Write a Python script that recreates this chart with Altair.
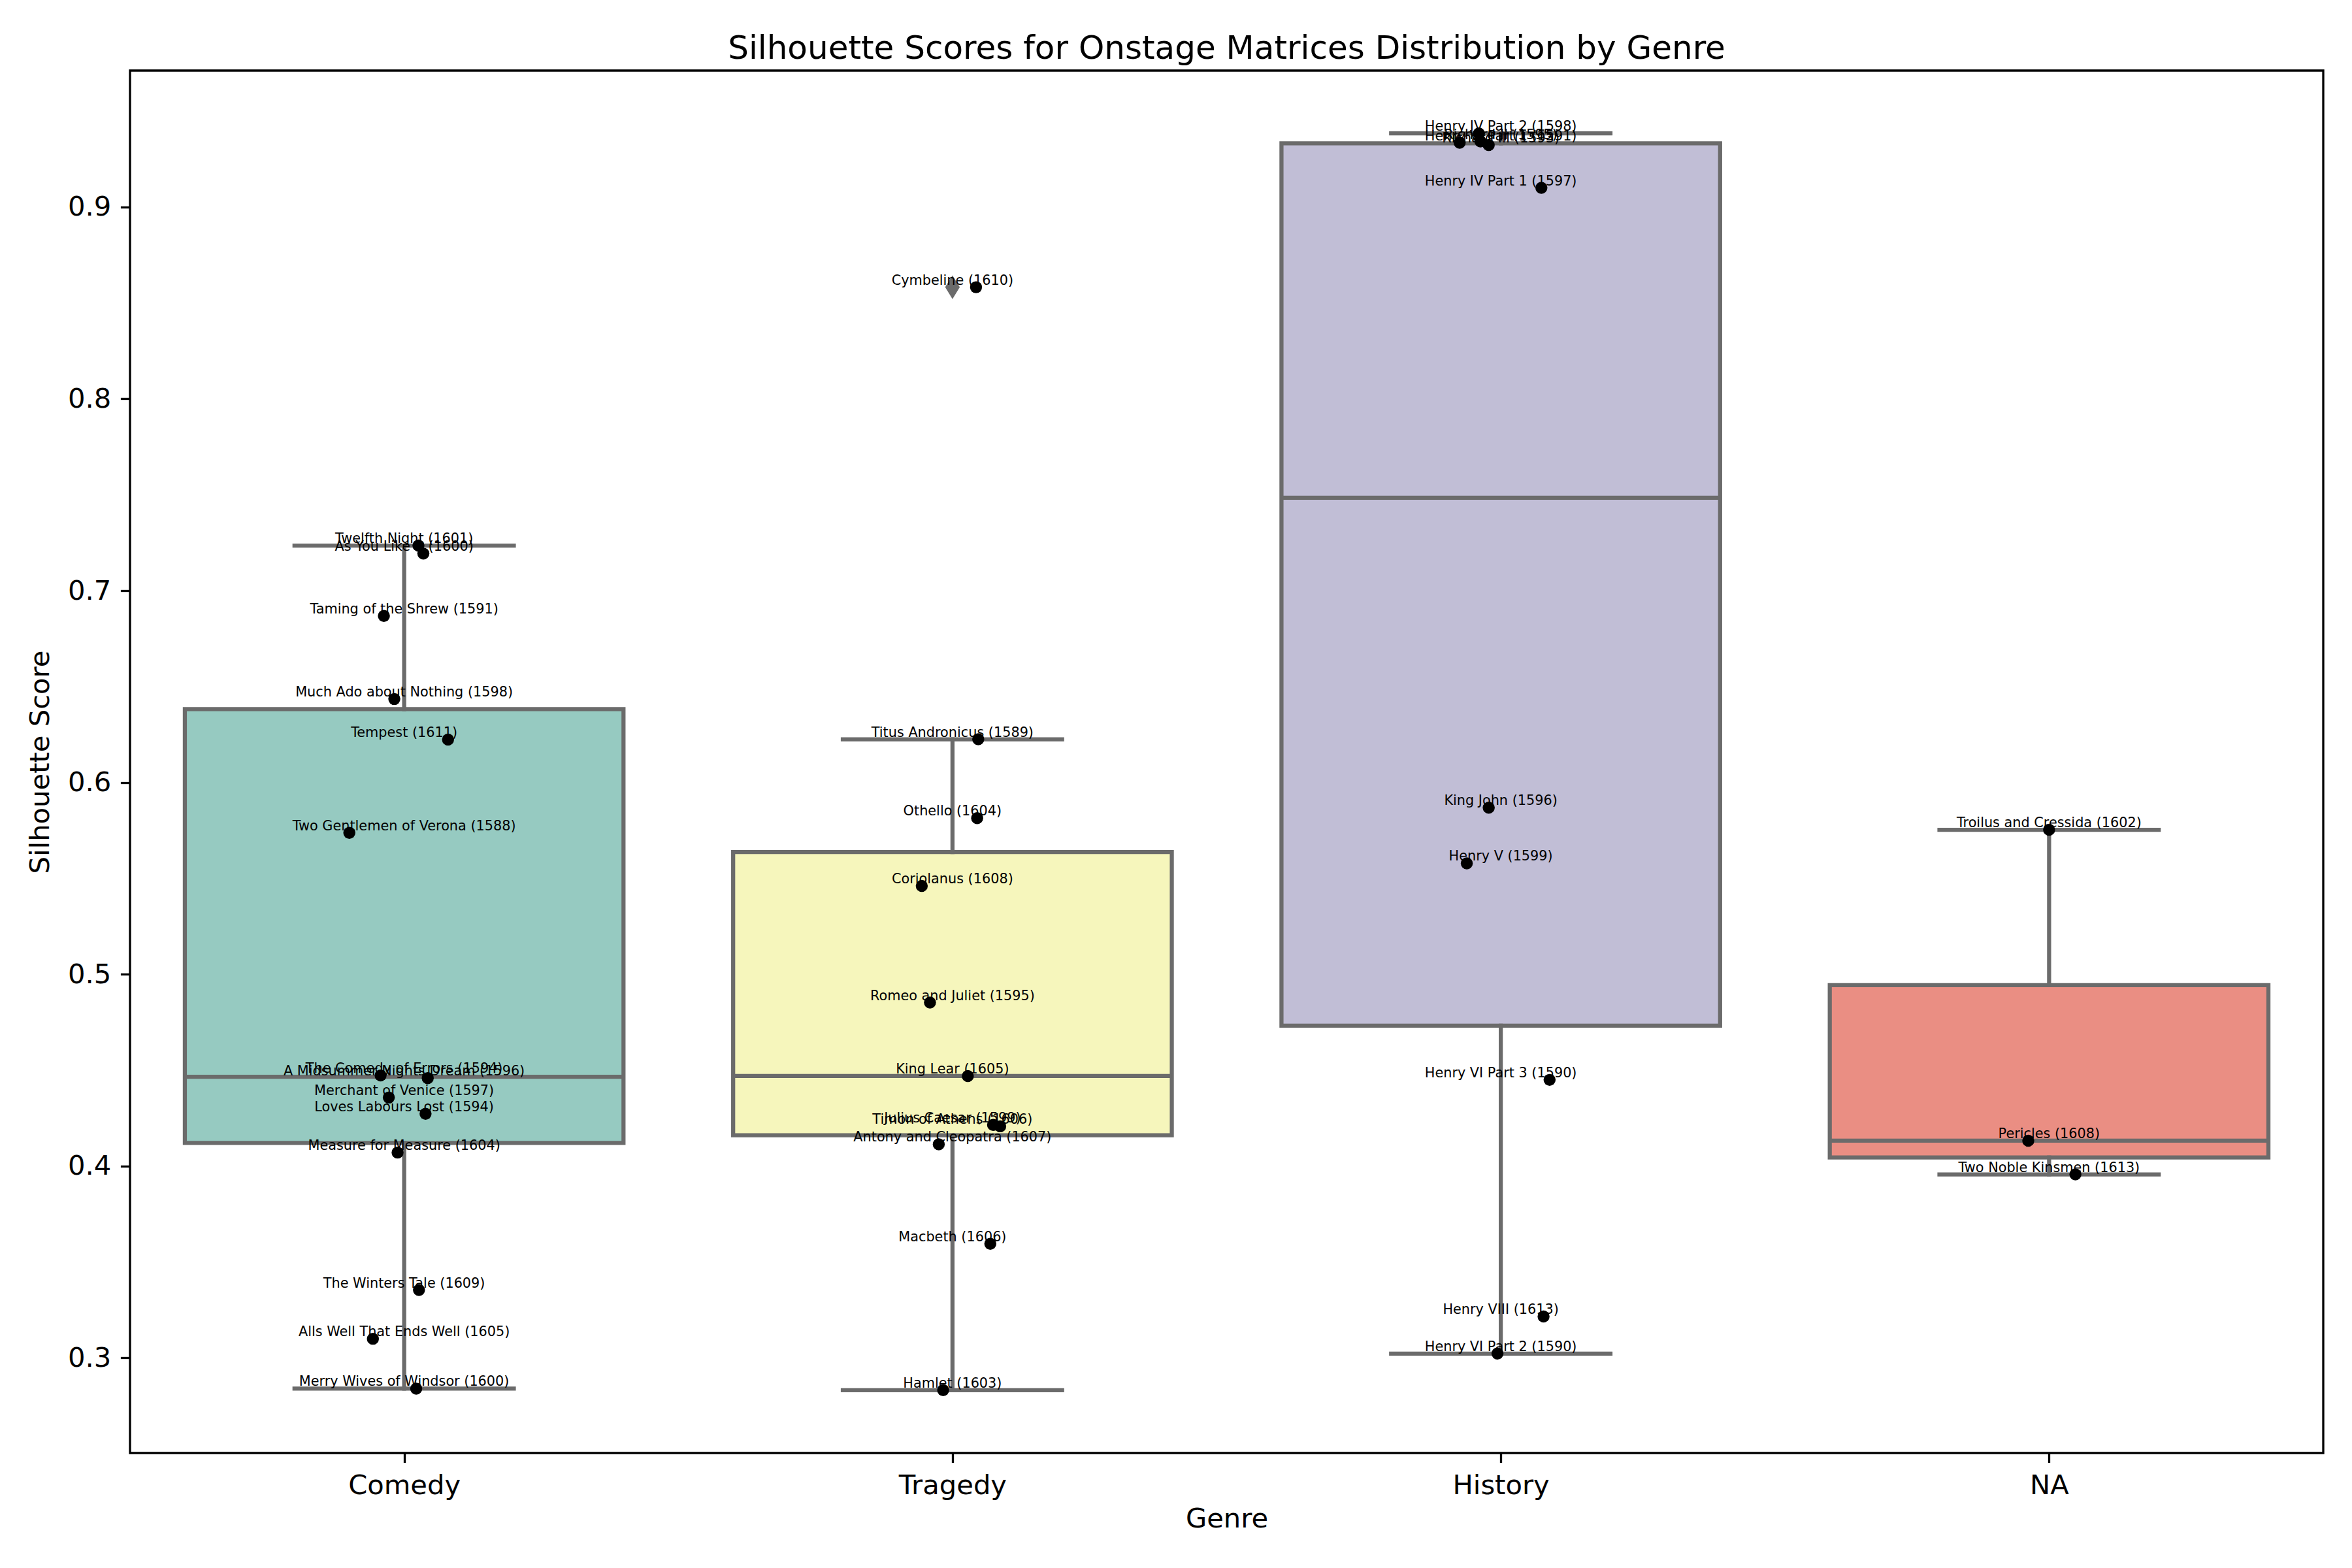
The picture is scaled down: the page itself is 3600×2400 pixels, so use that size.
import altair as alt
import pandas as pd

genres = ["Comedy", "Tragedy", "History", "NA"]
box_colors = ["#96cac1", "#f6f6bc", "#c1bed6", "#ea8e83"]

comedy_labels = ["Twelfth Night (1601)", "As You Like It (1600)", "Taming of the Shrew (1591)",
                 "Much Ado about Nothing (1598)", "Tempest (1611)", "Two Gentlemen of Verona (1588)",
                 "The Comedy of Errors (1594)", "A Midsummer Nights Dream (1596)",
                 "Merchant of Venice (1597)", "Loves Labours Lost (1594)", "Measure for Measure (1604)",
                 "The Winters Tale (1609)", "Alls Well That Ends Well (1605)",
                 "Merry Wives of Windsor (1600)"]
comedy_scores = [0.7235, 0.7193, 0.6868, 0.6435, 0.6223, 0.5737, 0.4472, 0.4458,
                 0.4357, 0.4272, 0.4070, 0.3353, 0.3099, 0.2839]
comedy_jitter = [0.026, 0.035, -0.037, -0.018, 0.080, -0.100, -0.043, 0.043,
                 -0.028, 0.039, -0.012, 0.027, -0.057, 0.022]

tragedy_labels = ["Cymbeline (1610)", "Titus Andronicus (1589)", "Othello (1604)",
                  "Coriolanus (1608)", "Romeo and Juliet (1595)", "King Lear (1605)",
                  "Julius Caesar (1599)", "Timon of Athens (1606)", "Antony and Cleopatra (1607)",
                  "Macbeth (1606)", "Hamlet (1603)"]
tragedy_scores = [0.8582, 0.6225, 0.5814, 0.5460, 0.4852, 0.4469, 0.4214, 0.4207,
                  0.4113, 0.3594, 0.2831]
tragedy_jitter = [0.043, 0.047, 0.045, -0.056, -0.041, 0.028, 0.074, 0.087,
                  -0.025, 0.069, -0.017]

history_labels = ["Henry IV Part 2 (1598)", "Richard II (1595)", "Henry VI Part 1 (1591)",
                  "Richard III (1593)", "Henry IV Part 1 (1597)", "King John (1596)",
                  "Henry V (1599)", "Henry VI Part 3 (1590)", "Henry VIII (1613)",
                  "Henry VI Part 2 (1590)"]
history_scores = [0.9384, 0.9342, 0.9335, 0.9323, 0.9100, 0.5868, 0.5578, 0.4449,
                  0.3215, 0.3022]
history_jitter = [-0.040, -0.037, -0.075, -0.022, 0.074, -0.022, -0.062, 0.089,
                  0.078, -0.006]

na_labels = ["Troilus and Cressida (1602)", "Pericles (1608)", "Two Noble Kinsmen (1613)"]
na_scores = [0.5753, 0.4132, 0.3956]
na_jitter = [0.000, -0.038, 0.048]

y_ticks = [0.3, 0.4, 0.5, 0.6, 0.7, 0.8, 0.9]

groups = [
    (comedy_labels, comedy_scores, comedy_jitter),
    (tragedy_labels, tragedy_scores, tragedy_jitter),
    (history_labels, history_scores, history_jitter),
    (na_labels, na_scores, na_jitter),
]
rows = []
for gi, (labs, scs, jit) in enumerate(groups):
    for lab, sc, jt in zip(labs, scs, jit):
        rows.append({"genre": genres[gi], "gidx": gi, "label": lab, "score": sc, "jx": gi + jt})
df = pd.DataFrame(rows)

lo, hi = df["score"].min(), df["score"].max()
pad = 0.05 * (hi - lo)

GRAY = "#6b6b6b"
LW = 6.25
FONT = "DejaVu Sans"

xscale = alt.Scale(domain=[-0.5, 3.5], nice=False, zero=False)
yscale = alt.Scale(domain=[lo - pad, hi + pad], nice=False, zero=False)
label_expr = "[" + ",".join("'%s'" % g for g in genres) + "][datum.value]"
xaxis = alt.Axis(values=[0, 1, 2, 3], labelExpr=label_expr, title="Genre", titlePadding=10)
yaxis = alt.Axis(values=y_ticks, format=".1f", title="Silhouette Score", titlePadding=20)

base = alt.Chart(df)

stats = base.transform_aggregate(
    q1="q1(score)", q3="q3(score)", med="median(score)", groupby=["genre", "gidx"]
).transform_calculate(xl="datum.gidx - 0.4", xr="datum.gidx + 0.4")

boxes = stats.mark_rect(stroke=GRAY, strokeWidth=LW, strokeJoin="miter").encode(
    x=alt.X("xl:Q", scale=xscale, axis=xaxis),
    x2="xr:Q",
    y=alt.Y("q1:Q", scale=yscale, axis=yaxis),
    y2="q3:Q",
    color=alt.Color("genre:N", scale=alt.Scale(domain=genres, range=box_colors), legend=None),
)
medians = stats.mark_rule(color=GRAY, strokeWidth=LW).encode(
    x="xl:Q", x2="xr:Q", y="med:Q"
)

fenced = base.transform_joinaggregate(
    q1="q1(score)", q3="q3(score)", groupby=["genre"]
).transform_calculate(
    lo="datum.q1 - 1.5 * (datum.q3 - datum.q1)",
    hi="datum.q3 + 1.5 * (datum.q3 - datum.q1)",
)
whisk = fenced.transform_filter(
    "datum.score >= datum.lo && datum.score <= datum.hi"
).transform_aggregate(
    wmin="min(score)", wmax="max(score)", q1="max(q1)", q3="max(q3)", groupby=["genre", "gidx"]
).transform_calculate(cl="datum.gidx - 0.2", cr="datum.gidx + 0.2")

up_whisk = whisk.mark_rule(color=GRAY, strokeWidth=LW, strokeCap="square").encode(
    x="gidx:Q", y="q3:Q", y2="wmax:Q")
lo_whisk = whisk.mark_rule(color=GRAY, strokeWidth=LW, strokeCap="square").encode(
    x="gidx:Q", y="wmin:Q", y2="q1:Q")
up_cap = whisk.mark_rule(color=GRAY, strokeWidth=LW, strokeCap="square").encode(
    x="cl:Q", x2="cr:Q", y="wmax:Q")
lo_cap = whisk.mark_rule(color=GRAY, strokeWidth=LW, strokeCap="square").encode(
    x="cl:Q", x2="cr:Q", y="wmin:Q")

outliers = fenced.transform_filter(
    "datum.score < datum.lo || datum.score > datum.hi"
).mark_point(shape="M0,-1L0.62,0L0,1L-0.62,0Z", filled=True, color=GRAY, opacity=1,
             size=1300, strokeWidth=0).encode(x="gidx:Q", y="score:Q")

points = base.mark_circle(color="black", opacity=1, size=340).encode(
    x="jx:Q", y="score:Q")

texts = base.mark_text(fontSize=20.8, font=FONT, color="black", align="center",
                       baseline="bottom").encode(x="gidx:Q", y="score:Q", text="label:N")

chart = alt.layer(
    boxes, medians, up_whisk, lo_whisk, up_cap, lo_cap, outliers, points, texts
).properties(
    width=3357, height=2116,
    title=alt.TitleParams("Silhouette Scores for Onstage Matrices Distribution by Genre",
                          fontSize=50, font=FONT, fontWeight="normal", color="black",
                          anchor="middle", baseline="alphabetic", offset=26, dy=58),
    autosize=alt.AutoSizeParams(type="none"),
    padding={"left": 191, "top": 100, "right": 30, "bottom": 160},
).configure_view(
    stroke="black", strokeWidth=3.3
).configure_axis(
    grid=False, domain=False, labelFont=FONT, titleFont=FONT, labelFontSize=41.7,
    titleFontSize=41.7, titleFontWeight="normal", labelColor="black", titleColor="black",
    tickColor="black", tickSize=14.6, tickWidth=3.3, labelPadding=14.6
)

chart.save("out.html", embed_options={"renderer": "svg", "actions": False})
